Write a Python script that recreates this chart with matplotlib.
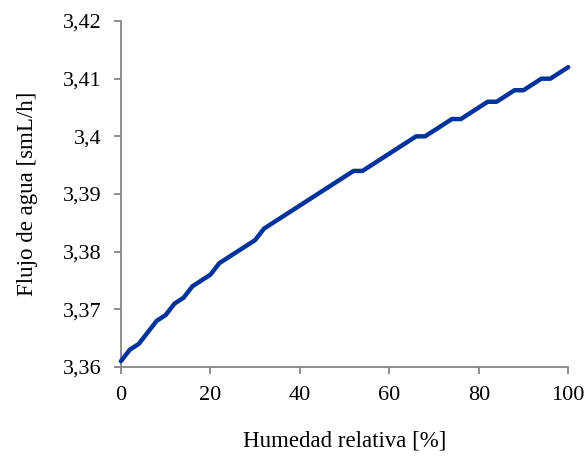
import matplotlib
matplotlib.use("Agg")
import matplotlib.pyplot as plt
from matplotlib.ticker import FuncFormatter

humedad = [0, 2, 4, 6, 8, 10, 12, 14, 16, 18, 20, 22, 24, 26, 28, 30, 32, 34, 36, 38,
           40, 42, 44, 46, 48, 50, 52, 54, 56, 58, 60, 62, 64, 66, 68, 70, 72, 74, 76,
           78, 80, 82, 84, 86, 88, 90, 92, 94, 96, 98, 100]
flujo = [3.361, 3.363, 3.364, 3.366, 3.368, 3.369, 3.371, 3.372, 3.374, 3.375, 3.376,
         3.378, 3.379, 3.380, 3.381, 3.382, 3.384, 3.385, 3.386, 3.387, 3.388, 3.389,
         3.390, 3.391, 3.392, 3.393, 3.394, 3.394, 3.395, 3.396, 3.397, 3.398, 3.399,
         3.400, 3.400, 3.401, 3.402, 3.403, 3.403, 3.404, 3.405, 3.406, 3.406, 3.407,
         3.408, 3.408, 3.409, 3.410, 3.410, 3.411, 3.412]
xticks = [0, 20, 40, 60, 80, 100]
yticks = [3.36, 3.37, 3.38, 3.39, 3.40, 3.41, 3.42]

plt.rcParams['font.family'] = ['Liberation Serif', 'DejaVu Serif']
fig = plt.figure(figsize=(5.84, 4.57), dpi=100)
ax = fig.add_axes([0.207, 0.197, 0.766, 0.757])
ax.plot(humedad, flujo, color='#003399', lw=3.2, solid_joinstyle='round',
        solid_capstyle='round', clip_on=False)
ax.set_xlim(0, 100)
ax.set_ylim(3.36, 3.42)
ax.set_xticks(xticks)
ax.set_yticks(yticks)
ax.xaxis.set_major_formatter(FuncFormatter(lambda v, p: f"{v:g}"))
ax.yaxis.set_major_formatter(FuncFormatter(lambda v, p: f"{round(v, 3):g}".replace('.', ',')))
for s in ['top', 'right']:
    ax.spines[s].set_visible(False)
for s in ['left', 'bottom']:
    ax.spines[s].set_color('#868686')
    ax.spines[s].set_linewidth(1.3)
    ax.spines[s].set_zorder(1)
ax.tick_params(axis='both', colors='#868686', labelcolor='black', labelsize=16,
               length=5, width=1.3, direction='out')
ax.tick_params(axis='y', pad=9)
ax.tick_params(axis='x', pad=9)
ax.set_xlabel('Humedad relativa [%]', fontsize=16.5, labelpad=18)
ax.set_ylabel('Flujo de agua [smL/h]', fontsize=16.5, labelpad=18)
fig.savefig('out.png', dpi=100)
